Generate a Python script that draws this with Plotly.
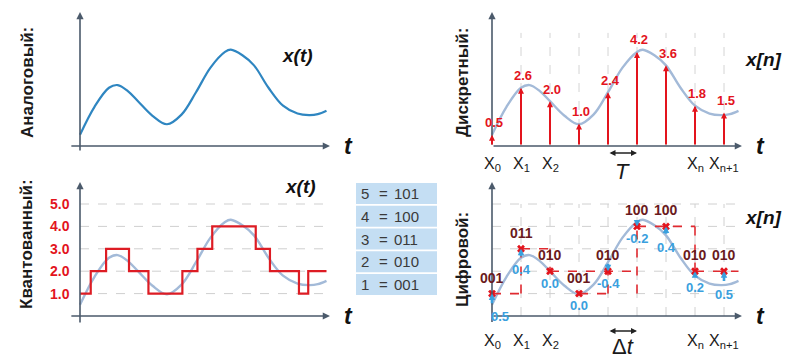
import plotly.graph_objects as go

# ---------------- data ----------------
curve_t = [0, 0.5, 1.0, 1.3, 1.65, 2.0, 2.5, 3.0, 3.5, 4.0, 4.5, 5.0, 5.2, 5.6, 6.0, 6.5, 7.0, 7.5, 7.9, 8.2, 8.5]
curve_v = [0.5, 1.75, 2.6, 2.72, 2.45, 2.0, 1.35, 0.97, 1.4, 2.4, 3.5, 4.2, 4.3, 4.05, 3.6, 2.6, 1.8, 1.45, 1.38, 1.42, 1.57]

sample_t = [0, 1, 2, 3, 4, 5, 6, 7, 8]
sample_v = [0.5, 2.6, 2.0, 1.0, 2.4, 4.2, 3.6, 1.8, 1.5]
sample_labels = ["0.5", "2.6", "2.0", "1.0", "2.4", "4.2", "3.6", "1.8", "1.5"]
quant_level = [1, 3, 2, 1, 2, 4, 4, 2, 2]
quant_code = ["001", "011", "010", "001", "010", "100", "100", "010", "010"]
err_labels = ["0.5", "0.4", "0.0", "0.0", "-0.4", "-0.2", "0.4", "0.2", "0.5"]
x_tick_idx = [0, 1, 2, 7, 8]
x_tick_text = ["X<sub>0</sub>", "X<sub>1</sub>", "X<sub>2</sub>", "X<sub>n</sub>", "X<sub>n+1</sub>"]

# quantized (rounded) step signal
step_t = [0, 0.37, 0.90, 1.69, 2.36, 3.53, 4.05, 4.56, 6.06, 6.55, 7.55, 7.87, 8.5]
step_v = [1, 2, 3, 2, 1, 2, 3, 4, 3, 2, 1, 2, 2]
levels = [1, 2, 3, 4, 5]
level_labels = ["1.0", "2.0", "3.0", "4.0", "5.0"]

# code table
table_level = [5, 4, 3, 2, 1]
table_code = ["101", "100", "011", "010", "001"]

# sample-and-hold dashed segments: (start sample, end sample, level) and (sample, from level, to level)
hold_h = [(0, 1, 1), (1, 2, 3), (2, 5, 2), (3, 4, 1), (5, 7, 4), (7, 8.5, 2)]
hold_v = [(1, 1, 3), (2, 3, 2), (4, 1, 2), (5, 1, 4), (7, 4, 2)]

# ---------------- layout geometry ----------------
W, H = 795, 359
PX_T = 29.0      # px per sample
PX_V = 22.4      # px per level unit
XR = [-0.5, 9.5]
YR = [-1.2, 6.2]

def xdom(origin_px):
    left = origin_px - (0 - XR[0]) * PX_T
    return [left / W, (left + (XR[1] - XR[0]) * PX_T) / W]

def ydom(origin_px):
    top = origin_px - YR[1] * PX_V
    bot = origin_px - YR[0] * PX_V
    return [1 - bot / H, 1 - top / H]

panels = {
    "tl": (1, 80, 146),
    "tr": (2, 492, 146),
    "bl": (3, 80, 316),
    "br": (4, 492, 316),
}

fig = go.Figure()
layout_axes = {}
for key, (n, ox, oy) in panels.items():
    sfx = "" if n == 1 else str(n)
    layout_axes["xaxis" + sfx] = dict(domain=xdom(ox), range=XR, visible=False, fixedrange=True,
                                      anchor="y" + sfx)
    layout_axes["yaxis" + sfx] = dict(domain=ydom(oy), range=YR, visible=False, fixedrange=True,
                                      anchor="x" + sfx)

def refs(n):
    s = "" if n == 1 else str(n)
    return "x" + s, "y" + s

AX_COL = "#4b5a6b"
RED = "#e3141d"
BLUE_LIGHT = "#a3bad8"
BLUE_DARK = "#2f86c1"
ERR_BLUE = "#3aa0de"
MAROON = "#6a1a20"
FONT = "Arial, Liberation Sans, sans-serif"

annotations = []
shapes = []

def axis_arrows(n, x_left, y_bottom):
    xr, yr = refs(n)
    annotations.append(dict(x=8.62, y=0, ax=x_left, ay=0, xref=xr, yref=yr, axref=xr, ayref=yr,
                            text="", showarrow=True, arrowhead=2, arrowsize=0.9, arrowwidth=1.6,
                            arrowcolor=AX_COL))
    annotations.append(dict(x=0, y=5.98, ax=0, ay=y_bottom, xref=xr, yref=yr, axref=xr, ayref=yr,
                            text="", showarrow=True, arrowhead=2, arrowsize=0.9, arrowwidth=1.6,
                            arrowcolor=AX_COL))
    annotations.append(dict(x=9.25, y=0, xref=xr, yref=yr, text="<b><i>t</i></b>", showarrow=False,
                            font=dict(family=FONT, size=23, color="#111111")))

# ---- top-left: analog ----
fig.add_trace(go.Scatter(x=curve_t, y=curve_v, mode="lines", line=dict(color=BLUE_DARK, width=2.2, shape="spline"),
                         xaxis="x", yaxis="y", showlegend=False, hoverinfo="skip"))
axis_arrows(1, -0.35, -0.27)
annotations.append(dict(x=7.5, y=4.05, xref="x", yref="y", text="<b><i>x(t)</i></b>", showarrow=False,
                        font=dict(family=FONT, size=19, color="#111111")))

# ---- top-right: discrete ----
for t in sample_t[1:]:
    shapes.append(dict(type="line", xref="x2", yref="y2", x0=t, x1=t, y0=0, y1=5.05,
                       line=dict(color="#d4d4d4", width=1, dash="dash"), layer="below"))
fig.add_trace(go.Scatter(x=curve_t, y=curve_v, mode="lines", line=dict(color=BLUE_LIGHT, width=2.4, shape="spline"),
                         xaxis="x2", yaxis="y2", showlegend=False, hoverinfo="skip"))
axis_arrows(2, 0, 0)
for t, v, lab in zip(sample_t, sample_v, sample_labels):
    annotations.append(dict(x=t, y=v, ax=t, ay=0, xref="x2", yref="y2", axref="x2", ayref="y2",
                            text="", showarrow=True, arrowhead=2, arrowsize=0.6, arrowwidth=2,
                            arrowcolor=RED))
    annotations.append(dict(x=t, y=v, xref="x2", yref="y2", text="<b>" + lab + "</b>", showarrow=False,
                            yshift=12, xshift=2, font=dict(family=FONT, size=13, color=RED)))
annotations.append(dict(x=9.35, y=3.85, xref="x2", yref="y2", text="<b><i>x[n]</i></b>", showarrow=False,
                        font=dict(family=FONT, size=19, color="#111111")))
for i, txt in zip(x_tick_idx, x_tick_text):
    annotations.append(dict(x=sample_t[i], y=0, xref="x2", yref="y2", text=txt, showarrow=False,
                            yshift=-18, font=dict(family=FONT, size=16, color="#1a1a1a")))
annotations.append(dict(x=5, y=-0.31, ax=4, ay=-0.31, xref="x2", yref="y2", axref="x2", ayref="y2",
                        text="", showarrow=True, arrowhead=2, arrowside="end+start", arrowsize=0.8,
                        arrowwidth=1.5, arrowcolor="#222222"))
annotations.append(dict(x=4.5, y=0, xref="x2", yref="y2", text="<i>T</i>", showarrow=False,
                        yshift=-25, font=dict(family=FONT, size=22, color="#1a1a1a")))

# ---- bottom-left: quantized ----
for lv in levels:
    shapes.append(dict(type="line", xref="x3", yref="y3", x0=0, x1=8.52, y0=lv, y1=lv,
                       line=dict(color="#cfcfcf", width=1, dash="dash"), layer="below"))
fig.add_trace(go.Scatter(x=curve_t, y=curve_v, mode="lines", line=dict(color=BLUE_LIGHT, width=2.4, shape="spline"),
                         xaxis="x3", yaxis="y3", showlegend=False, hoverinfo="skip"))
fig.add_trace(go.Scatter(x=step_t, y=step_v, mode="lines", line=dict(color="#dd1c24", width=2.2, shape="hv"),
                         xaxis="x3", yaxis="y3", showlegend=False, hoverinfo="skip"))
axis_arrows(3, -0.35, -0.36)
for lv, lab in zip(levels, level_labels):
    annotations.append(dict(x=0, y=lv, xref="x3", yref="y3", text="<b>" + lab + "</b>", showarrow=False,
                            xanchor="right", xshift=-8, font=dict(family=FONT, size=14, color=RED)))
annotations.append(dict(x=7.6, y=5.8, xref="x3", yref="y3", text="<b><i>x(t)</i></b>", showarrow=False,
                        font=dict(family=FONT, size=19, color="#111111")))

# ---- bottom-right: digital ----
for lv in levels:
    shapes.append(dict(type="line", xref="x4", yref="y4", x0=0, x1=8.52, y0=lv, y1=lv,
                       line=dict(color="#d0d0d0", width=1, dash="dash"), layer="below"))
for t in sample_t[1:]:
    shapes.append(dict(type="line", xref="x4", yref="y4", x0=t, x1=t, y0=0, y1=5,
                       line=dict(color="#d0d0d0", width=1, dash="dash"), layer="below"))
fig.add_trace(go.Scatter(x=curve_t, y=curve_v, mode="lines", line=dict(color=BLUE_LIGHT, width=2.4, shape="spline"),
                         xaxis="x4", yaxis="y4", showlegend=False, hoverinfo="skip"))
hx, hy = [], []
for a, b, lv in hold_h:
    hx += [a, b, None]
    hy += [lv, lv, None]
for t, a, b in hold_v:
    hx += [t, t, None]
    hy += [a, b, None]
fig.add_trace(go.Scatter(x=hx, y=hy, mode="lines", line=dict(color="#e02a30", width=1.6, dash="dash"),
                         xaxis="x4", yaxis="y4", showlegend=False, hoverinfo="skip", connectgaps=False))
axis_arrows(4, 0, -0.33)
for t, v, lv, code, el in zip(sample_t, sample_v, quant_level, quant_code, err_labels):
    if abs(lv - v) > 1e-9:
        annotations.append(dict(x=t, y=lv, ax=t, ay=v, xref="x4", yref="y4", axref="x4", ayref="y4",
                                text="", showarrow=True, arrowhead=2, arrowsize=0.5, arrowwidth=2.6,
                                arrowcolor=ERR_BLUE))
    annotations.append(dict(x=t, y=lv, xref="x4", yref="y4", text="<b>" + code + "</b>", showarrow=False,
                            yshift=16, font=dict(family=FONT, size=14, color=MAROON)))
    annotations.append(dict(x=t, y=min(v, lv), xref="x4", yref="y4", text="<b>" + el + "</b>", showarrow=False,
                            yshift=-12, xshift=(8 if t == 0 else 0),
                            font=dict(family=FONT, size=13, color=ERR_BLUE)))
fig.add_trace(go.Scatter(x=sample_t, y=quant_level, mode="markers",
                         marker=dict(symbol="x", size=7, color=RED, line=dict(width=0)),
                         xaxis="x4", yaxis="y4", showlegend=False, hoverinfo="skip"))
annotations.append(dict(x=9.35, y=4.4, xref="x4", yref="y4", text="<b><i>x[n]</i></b>", showarrow=False,
                        font=dict(family=FONT, size=19, color="#111111")))
for i, txt in zip(x_tick_idx, x_tick_text):
    annotations.append(dict(x=sample_t[i], y=0, xref="x4", yref="y4", text=txt, showarrow=False,
                            yshift=-25, font=dict(family=FONT, size=16, color="#1a1a1a")))
annotations.append(dict(x=5, y=-0.67, ax=4, ay=-0.67, xref="x4", yref="y4", axref="x4", ayref="y4",
                        text="", showarrow=True, arrowhead=2, arrowside="end+start", arrowsize=0.8,
                        arrowwidth=1.5, arrowcolor="#222222"))
annotations.append(dict(x=4.5, y=0, xref="x4", yref="y4", text="Δ<i>t</i>", showarrow=False,
                        yshift=-30, font=dict(family=FONT, size=22, color="#1a1a1a")))

# ---- code table (paper coords) ----
row_top0, row_pitch, row_h = 183, 22.75, 21
tx0, tx1 = 356, 437
for i, (lv, code) in enumerate(zip(table_level, table_code)):
    top = row_top0 + i * row_pitch
    shapes.append(dict(type="rect", xref="paper", yref="paper", x0=tx0 / W, x1=tx1 / W,
                       y0=1 - (top + row_h) / H, y1=1 - top / H, fillcolor="#c4def3", line=dict(width=0)))
    yc = 1 - (top + row_h / 2) / H
    for xp, txt in ((365, str(lv)), (383, "="), (406, code)):
        annotations.append(dict(x=xp / W, y=yc, xref="paper", yref="paper", text=txt, showarrow=False,
                                xanchor="center", yanchor="middle",
                                font=dict(family=FONT, size=15, color="#3a3a3a")))

# ---- panel titles (rotated) ----
for txt, xp, yp in (("Аналоговый:", 27, 83), ("Квантованный:", 27, 244),
                    ("Дискретный:", 462, 83), ("Цифровой:", 462, 260)):
    annotations.append(dict(x=xp / W, y=1 - yp / H, xref="paper", yref="paper", text="<b>" + txt + "</b>",
                            textangle=-90, showarrow=False, xanchor="center", yanchor="middle",
                            font=dict(family=FONT, size=17, color="#1a1a1a")))

fig.update_layout(width=W, height=H, margin=dict(l=0, r=0, t=0, b=0), paper_bgcolor="white",
                  plot_bgcolor="rgba(0,0,0,0)", showlegend=False, annotations=annotations, shapes=shapes,
                  **layout_axes)
fig.write_html("out.html", config={"displayModeBar": False},
               post_script="document.body.style.margin='0px';document.body.style.overflow='hidden';")
